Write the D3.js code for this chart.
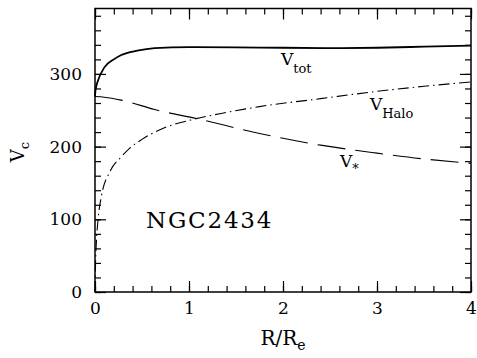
<html>
<script src='https://d3js.org/d3.v7.min.js'></script>
<style>
body {margin:0; background:white;}
text {font-family: 'DejaVu Serif', serif; fill: black;}
</style>
<body onload='init()'>
<svg width=477 height=358></svg>
<script>
// R/R_e vs V_c
var totR = [0, 0.003, 0.01, 0.032, 0.1, 0.2, 0.28, 0.45, 0.635, 1.0, 1.5, 2.0, 2.5, 3.0, 3.5, 4.0];
var totV = [269, 275, 281, 291, 309, 320, 326, 332, 335.5, 337, 336.5, 336, 335.5, 336, 337.5, 339];

var starR = [0, 0.1, 0.28, 0.635, 1.1, 1.75, 2.4, 3.0, 3.5, 4.0];
var starV = [269, 268, 264, 251, 238, 218, 202, 191, 183, 177];

var haloR = [0, 0.002, 0.006, 0.014, 0.032, 0.067, 0.16, 0.28, 0.37, 0.5, 0.72, 1.0, 1.4, 1.75, 2.4, 3.0, 3.5, 4.0];
var haloV = [0, 15, 40, 67, 99, 131, 166, 186, 198, 210, 225, 236, 247, 255, 266, 276, 283, 289];

var xMajor = [0, 1, 2, 3, 4];
var yMajor = [0, 100, 200, 300];

function init() {
var left = 95, right = 471, top = 8.5, bottom = 292;

var x = d3.scaleLinear().domain([0, 4]).range([left, right]);
var y = d3.scaleLinear().domain([0, 390]).range([bottom, top]);

var svg = d3.select("svg");

var xMinor = d3.range(0, 4.001, 0.2);
var yMinor = d3.range(0, 390, 20);

// minor ticks on all four sides, pointing in
svg.append("g").attr("transform","translate(0,"+bottom+")")
  .call(d3.axisBottom(x).tickValues(xMinor).tickSize(-6).tickFormat(""));
svg.append("g").attr("transform","translate(0,"+top+")")
  .call(d3.axisTop(x).tickValues(xMinor).tickSize(-6).tickFormat(""));
svg.append("g").attr("transform","translate("+left+",0)")
  .call(d3.axisLeft(y).tickValues(yMinor).tickSize(-6).tickFormat(""));
svg.append("g").attr("transform","translate("+right+",0)")
  .call(d3.axisRight(y).tickValues(yMinor).tickSize(-6).tickFormat(""));

// major ticks
svg.append("g").attr("class","xa").attr("transform","translate(0,"+bottom+")")
  .call(d3.axisBottom(x).tickValues(xMajor).tickSize(-11).tickPadding(10).tickFormat(d3.format("d")));
svg.append("g").attr("transform","translate(0,"+top+")")
  .call(d3.axisTop(x).tickValues(xMajor).tickSize(-11).tickFormat(""));
svg.append("g").attr("class","ya").attr("transform","translate("+left+",0)")
  .call(d3.axisLeft(y).tickValues(yMajor).tickSize(-11).tickPadding(13).tickFormat(d3.format("d")));
svg.append("g").attr("transform","translate("+right+",0)")
  .call(d3.axisRight(y).tickValues(yMajor).tickSize(-11).tickFormat(""));

svg.selectAll(".domain").remove();
svg.selectAll(".tick line").attr("stroke","black").attr("stroke-width",1.2);
svg.selectAll(".xa text, .ya text")
  .style("font-family","'DejaVu Serif', serif").style("font-size","17px");

svg.append("rect")
  .attr("x",left).attr("y",top)
  .attr("width",right-left).attr("height",bottom-top)
  .attr("fill","none").attr("stroke","black").attr("stroke-width",1.5);

var line = d3.line().curve(d3.curveMonotoneX)
  .x(function(d){ return x(d[0]); })
  .y(function(d){ return y(d[1]); });

svg.append("path").datum(d3.zip(totR, totV))
  .attr("d",line).attr("fill","none").attr("stroke","black").attr("stroke-width",1.8);

svg.append("path").datum(d3.zip(starR, starV))
  .attr("d",line).attr("fill","none").attr("stroke","black").attr("stroke-width",1.1)
  .attr("stroke-dasharray","28,10");

svg.append("path").datum(d3.zip(haloR, haloV))
  .attr("d",line).attr("fill","none").attr("stroke","black").attr("stroke-width",1.1)
  .attr("stroke-dasharray","11,4,1.5,4");

// curve labels
function label(px, py, main, sub, subDy) {
  var t = svg.append("text").attr("x",px).attr("y",py).style("font-size","17px");
  t.append("tspan").text(main);
  t.append("tspan").attr("dy",subDy).style("font-size","13px").text(sub);
}
label(281, 65, "V", "tot", 8);
label(370, 110, "V", "Halo", 8);
label(340, 167, "V", "*", 6);

svg.append("text").attr("x",146).attr("y",228)
  .style("font-size","23px").style("letter-spacing","1.8px").text("NGC2434");

// axis titles
var xt = svg.append("text").attr("x",283).attr("y",345)
  .attr("text-anchor","middle").style("font-size","20px");
xt.append("tspan").text("R/R");
xt.append("tspan").attr("dy",5).style("font-size","14px").text("e");

var yt = svg.append("text").attr("transform","translate(24,152) rotate(-90)")
  .attr("text-anchor","middle").style("font-size","18px");
yt.append("tspan").text("V");
yt.append("tspan").attr("dy",5).style("font-size","13px").text("c");
}
</script>
</body>
</html>
